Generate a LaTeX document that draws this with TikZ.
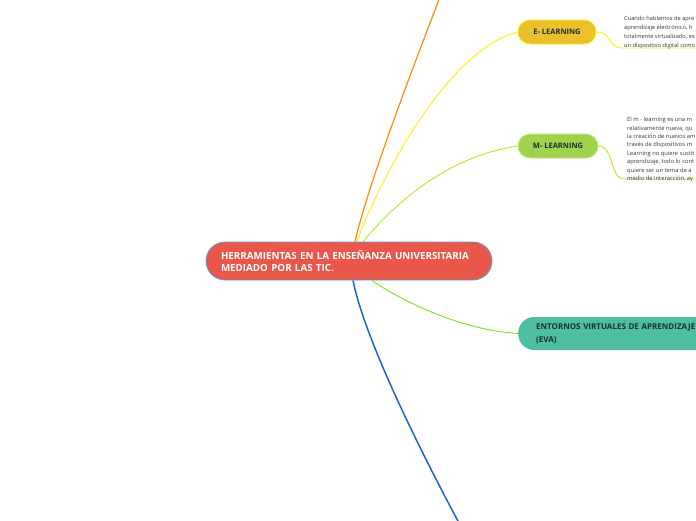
\documentclass[tikz,border=0pt]{standalone}
\usepackage{fontspec}
\setmainfont{Open Sans}
\usetikzlibrary{backgrounds,calc}
\definecolor{cOrange}{RGB}{255,140,0}
\definecolor{cYellow}{RGB}{255,236,0}
\definecolor{cLime}{RGB}{172,236,30}
\definecolor{cGreen}{RGB}{110,230,20}
\definecolor{cBlue}{RGB}{25,100,220}
\definecolor{cCentral}{RGB}{233,87,74}
\definecolor{cCentralBorder}{RGB}{95,155,220}
\definecolor{cEfill}{RGB}{236,192,45}
\definecolor{cMfill}{RGB}{160,210,80}
\definecolor{cMborder}{RGB}{195,235,110}
\definecolor{cEVA}{RGB}{78,190,162}
\definecolor{cDark}{RGB}{25,50,45}
\definecolor{cBody}{RGB}{55,55,55}
\tikzset{
  central/.style={draw=cCentralBorder, line width=0.8pt, fill=cCentral, rounded corners=19pt,
    minimum height=38pt, text width=256pt, inner xsep=15pt, align=left, text=white,
    font=\bfseries\fontsize{9.8}{12.8}\selectfont},
  subtopic/.style={rounded corners=12pt, minimum height=24pt, line width=0.8pt,
    text=cDark, font=\bfseries\fontsize{7.5}{9}\selectfont},
  bodytext/.style={anchor=north west, align=left, inner sep=0pt, text=cBody},
  link/.style={line width=0.9pt}
}
\begin{document}
\begin{tikzpicture}[x=1pt,y=-1pt]
\useasboundingbox (0,0) rectangle (696,520);
\clip (0,0) rectangle (696,520);
% nodes
\node[central] (c) at (349,261) {HERRAMIENTAS EN LA ENSEÑANZA UNIVERSITARIA\\MEDIADO POR LAS TIC.};
\node[subtopic, draw=cYellow, fill=cEfill, minimum width=78pt] (e) at (557,32) {E- LEARNING};
\node[subtopic, draw=cMborder, fill=cMfill, minimum width=80pt] (m) at (558,146) {M- LEARNING};
\node[anchor=west, fill=cEVA, rounded corners=16pt, minimum height=33pt, text width=185pt,
  inner xsep=18pt, align=left, text=cDark, font=\bfseries\fontsize{8}{13}\selectfont] (eva) at (518,333.5)
  {ENTORNOS VIRTUALES DE APRENDIZAJE\\(EVA)};
\node[bodytext, font=\fontsize{5.7}{9}\selectfont] (et) at (624,16) {Cuando hablamos de apre\\aprendizaje electrónico, h\\totalmente virtualizado, es\\un dispositivo digital como};
\node[bodytext, font=\fontsize{5.8}{8.4}\selectfont] (mt) at (627,117) {El m - learning es una m\\relativamente nueva, qu\\la creación de nuevos am\\través de dispositivos m\\Learning no quiere sustit\\aprendizaje, todo lo cont\\quiere ser un tema de a\\medio de interacción, ay};
\coordinate (otop) at (440,-3);
\coordinate (bbot) at (459,523);
\coordinate (eend) at (700,48);
\coordinate (mend) at (700,179);
% connectors
\begin{pgfonlayer}{background}
\draw[link, cOrange, line width=1.2pt] ($(c.north)+(6,0)$) .. controls (368,185) and (412,70) .. (otop);
\draw[link, cYellow] ($(c.north)+(8,0)$) .. controls (375,190) and (445,50) .. (e.west);
\draw[link, cLime] ($(c.north)+(14,0)$) .. controls (390,210) and (440,158) .. (m.west);
\draw[link, cGreen] ($(c.south)+(23,0)$) .. controls (400,300) and (460,330) .. (eva.west);
\draw[cBlue, line width=1.5pt] ($(c.south)+(4,0)$) .. controls (365,340) and (420,450) .. (bbot);
\draw[link, cYellow] (e.east) .. controls (612,32) and (608,48) .. (622,48) -- (eend);
\draw[link, cLime] (m.east) .. controls (614,146) and (610,179) .. (624,179) -- (mend);
\end{pgfonlayer}
\end{tikzpicture}
\end{document}
